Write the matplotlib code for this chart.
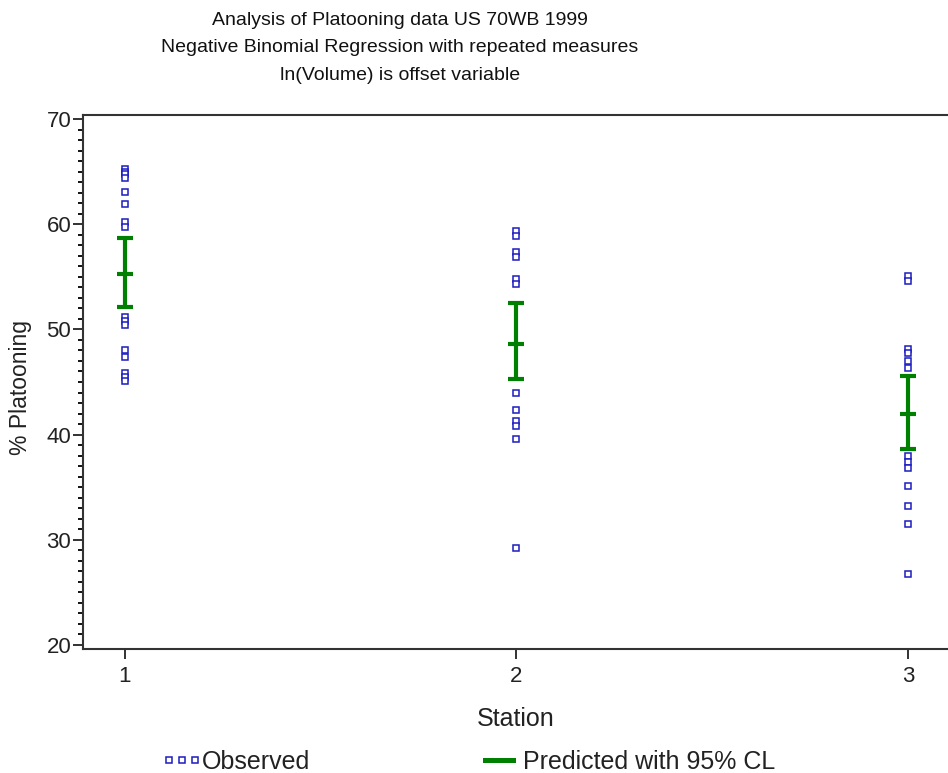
import matplotlib
matplotlib.use("Agg")
import matplotlib.pyplot as plt
from matplotlib.lines import Line2D
from matplotlib.ticker import MultipleLocator

plt.rcParams['font.family'] = ['Liberation Sans', 'DejaVu Sans']

# data
stations = [1, 2, 3]
predicted = [55.3, 48.6, 42.0]
lower_cl = [52.1, 45.3, 38.6]
upper_cl = [58.7, 52.5, 45.6]

obs_station1 = [65.3, 65.0, 64.8, 64.4, 63.1, 61.9, 60.2, 59.7,
                51.2, 50.8, 50.4, 48.0, 47.4, 45.9, 45.5, 45.1]
obs_station2 = [59.4, 58.9, 57.4, 56.9, 54.8, 54.3, 44.0, 42.3,
                41.3, 40.8, 39.6, 29.2]
obs_station3 = [55.1, 54.6, 48.1, 47.8, 47.0, 46.3, 38.0, 37.4,
                36.8, 35.1, 33.2, 31.5, 26.7]
observed = [obs_station1, obs_station2, obs_station3]

blue = '#1c1cc0'
green = '#008000'
W, H = 948, 773

fig = plt.figure(figsize=(9.48, 7.73), dpi=100)
ax = fig.add_axes([83 / W, 124 / H, 865 / W, 534 / H])

for st, vals in zip(stations, observed):
    ax.plot([st] * len(vals), vals, linestyle='none', marker='s', markersize=3.8,
            markerfacecolor='white', markeredgecolor=blue, markeredgewidth=1.1)

err_lo = [p - l for p, l in zip(predicted, lower_cl)]
err_hi = [u - p for p, u in zip(predicted, upper_cl)]
ax.errorbar(stations, predicted, yerr=[err_lo, err_hi], fmt='_', color=green,
            markersize=11, markeredgewidth=3, elinewidth=3, capsize=5.5, capthick=3)

ax.set_xlim(0.893, 3.102)
ax.set_ylim(19.6, 70.4)
ax.set_xticks(stations)
ax.yaxis.set_major_locator(MultipleLocator(10))
ax.yaxis.set_minor_locator(MultipleLocator(1))
ax.tick_params(axis='both', which='major', direction='out', length=7, width=1.3,
               labelsize=16, colors='#222222', pad=1.5)
ax.tick_params(axis='x', which='major', pad=5)
ax.tick_params(axis='y', which='minor', direction='out', length=3.5, width=1.3)
ax.spines['right'].set_visible(False)
for s in ['left', 'top', 'bottom']:
    ax.spines[s].set_linewidth(1.5)
    ax.spines[s].set_color('#333333')

ax.set_xlabel('Station', fontsize=18, va='center', color='#222222')
ax.xaxis.set_label_coords(0.5, (649 - 719) / 534)
ax.set_ylabel('% Platooning', fontsize=16.5, va='center', color='#222222')
ax.yaxis.set_label_coords((21 - 83) / 865, 0.49)

fig.text(400 / W, 1 - 48 / H,
         'Analysis of Platooning data US 70WB 1999\n'
         'Negative Binomial Regression with repeated measures\n'
         'ln(Volume) is offset variable',
         ha='center', va='center', fontsize=14, linespacing=1.83, color='#111111')

h_obs = Line2D([], [], linestyle='none', marker='s', markersize=4,
               markerfacecolor='white', markeredgecolor=blue, markeredgewidth=1.1)
h_pred = Line2D([], [], color=green, linewidth=3.6)
fig.legend([h_obs], ['Observed'], loc='center left',
           bbox_to_anchor=(161 / W, 1 - 762 / H), frameon=False,
           fontsize=18, numpoints=3, handlelength=1.64, handletextpad=0.0,
           borderpad=0, borderaxespad=0, labelcolor='#222222')
fig.legend([h_pred], ['Predicted with 95% CL'], loc='center left',
           bbox_to_anchor=(485 / W, 1 - 762 / H), frameon=False,
           fontsize=18, handlelength=1.12, handletextpad=0.4,
           borderpad=0, borderaxespad=0, labelcolor='#222222')

fig.savefig('out.png', dpi=100)
